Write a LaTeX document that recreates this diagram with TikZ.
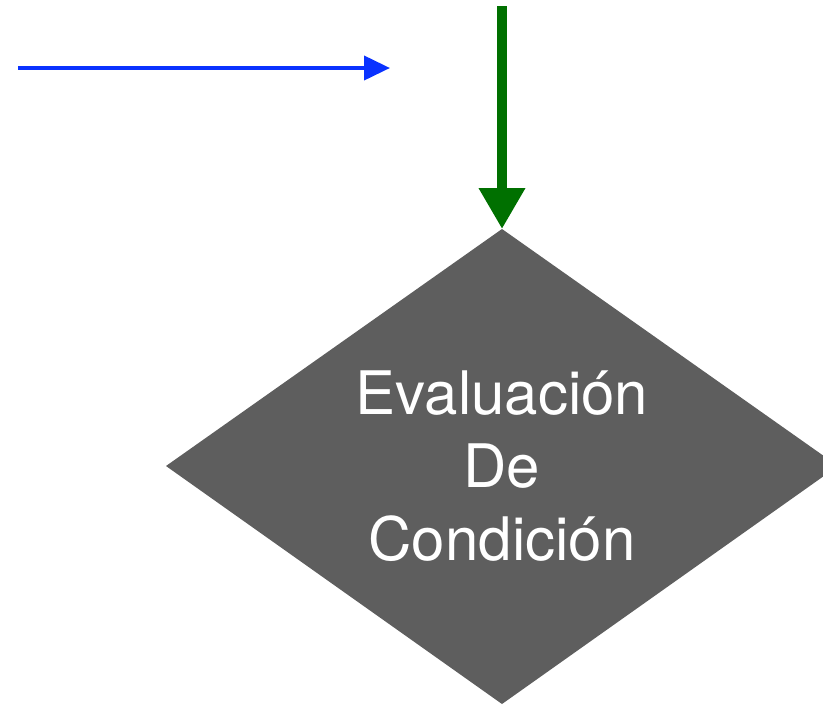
\documentclass[tikz,border=0pt]{standalone}
\usepackage{fontspec}
\setmainfont{TeX Gyre Heros}
\usetikzlibrary{arrows.meta}
\definecolor{dgray}{HTML}{5E5E5E}
\definecolor{dgreen}{HTML}{007000}
\definecolor{dblue}{HTML}{0A32FF}
\tikzset{
  decision/.style={fill=dgray, draw=none},
  decisiontext/.style={text=white, align=center, font=\fontsize{60}{73}\selectfont},
  greenarrow/.style={draw=dgreen, line width=10pt, -{Triangle[length=41pt,width=44pt]}},
  bluearrow/.style={draw=dblue, line width=4pt, -{Triangle[length=26pt,width=24pt]}}
}
\begin{document}
\begin{tikzpicture}[x=1pt,y=-1pt]
\useasboundingbox (0,0) rectangle (823,705);
\begin{scope}
\clip (0,0) rectangle (823,705);
\coordinate (dtop) at (502,229);
\coordinate (dleft) at (166,466);
\coordinate (dright) at (838,466);
\coordinate (dbot) at (502,704);
\fill[decision] (dtop) -- (dright) -- (dbot) -- (dleft) -- cycle;
\end{scope}
\node[decisiontext] (cond) at (502,466) {Evaluación\\De\\Condición};
\coordinate (gstart) at (502,6);
\draw[greenarrow] (gstart) -- (dtop);
\coordinate (bstart) at (18,68);
\coordinate (bend) at (390,68);
\draw[bluearrow] (bstart) -- (bend);
\end{tikzpicture}
\end{document}
